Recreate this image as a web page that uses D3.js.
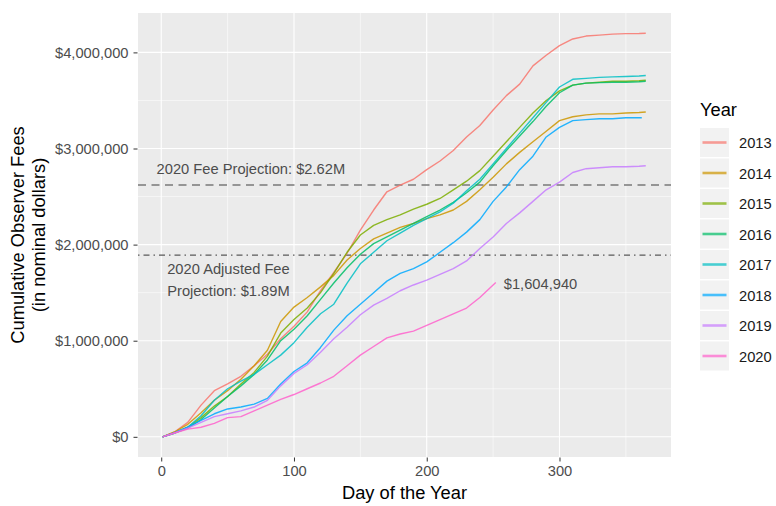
<!DOCTYPE html>
<html><head><meta charset="utf-8">
<script src="https://cdn.jsdelivr.net/npm/d3@7"></script>
<style>body{margin:0;background:#fff}svg{display:block}text{font-family:"Liberation Sans",Arial,sans-serif}</style>
</head><body><svg id="c" width="776" height="506"></svg>
<script>
// ---- data (values in millions of nominal dollars) ----
const years = ["2013","2014","2015","2016","2017","2018","2019","2020"];
const colors = ["#F8766D","#CD9600","#7CAE00","#00BE67","#00BFC4","#00A9FF","#C77CFF","#FF61CC"];
const days = [1,10,20,30,40,50,60,70,80,90,100,110,120,130,140,150,160,170,180,190,200,210,220,230,240,250,260,270,280,290,300,310,320,330,340,350,360];
const fees2013 = [0,0.05,0.15,0.33,0.48,0.55,0.63,0.74,0.86,1.02,1.15,1.30,1.52,1.71,1.91,2.15,2.36,2.55,2.62,2.68,2.78,2.87,2.98,3.12,3.24,3.40,3.55,3.67,3.86,3.97,4.07,4.14,4.17,4.18,4.19,4.195,4.197];
const fees2014 = [0,0.05,0.13,0.25,0.38,0.48,0.60,0.74,0.90,1.20,1.35,1.45,1.56,1.68,1.84,1.96,2.06,2.12,2.18,2.22,2.27,2.31,2.36,2.45,2.57,2.70,2.84,2.96,3.07,3.18,3.29,3.33,3.35,3.36,3.36,3.37,3.375];
const fees2015 = [0,0.04,0.10,0.20,0.32,0.42,0.55,0.67,0.84,1.08,1.22,1.34,1.50,1.70,1.92,2.10,2.20,2.26,2.31,2.37,2.42,2.48,2.57,2.66,2.77,2.92,3.07,3.22,3.37,3.50,3.60,3.66,3.68,3.69,3.70,3.70,3.705];
const fees2016 = [0,0.04,0.09,0.18,0.30,0.42,0.53,0.65,0.80,1.00,1.12,1.26,1.43,1.60,1.76,1.90,2.01,2.08,2.15,2.22,2.29,2.36,2.44,2.54,2.65,2.82,2.98,3.13,3.28,3.44,3.58,3.66,3.68,3.685,3.69,3.69,3.695];
const fees2017 = [0,0.04,0.10,0.22,0.38,0.50,0.58,0.65,0.75,0.85,0.98,1.14,1.28,1.38,1.60,1.80,1.92,2.04,2.12,2.20,2.27,2.34,2.43,2.56,2.68,2.84,3.00,3.16,3.32,3.48,3.64,3.72,3.73,3.74,3.745,3.75,3.755];
const fees2018 = [0,0.04,0.10,0.17,0.24,0.29,0.31,0.34,0.40,0.55,0.68,0.77,0.93,1.11,1.26,1.38,1.50,1.62,1.70,1.75,1.82,1.92,2.02,2.13,2.26,2.45,2.60,2.78,2.92,3.12,3.22,3.29,3.30,3.31,3.31,3.32,3.32];
const fees2019 = [0,0.04,0.09,0.15,0.21,0.24,0.27,0.31,0.38,0.53,0.66,0.75,0.88,1.02,1.14,1.27,1.37,1.44,1.52,1.58,1.63,1.69,1.75,1.83,1.96,2.08,2.22,2.33,2.45,2.57,2.65,2.75,2.79,2.80,2.81,2.81,2.815];
const fees2020 = [0,0.04,0.08,0.10,0.14,0.20,0.21,0.27,0.33,0.39,0.44,0.50,0.56,0.63,0.74,0.85,0.94,1.03,1.07,1.10,1.16,1.22,1.28,1.34,1.45,1.58];
const finalDays = [365,365,365,365,365,362,365,252];
const finalFees = [4.20,3.38,3.71,3.70,3.76,3.32,2.82,1.60494];
const yTicks = [0,1000000,2000000,3000000,4000000];
const yMinor = [500000,1500000,2500000,3500000];
const xTicks = [0,100,200,300];
const xMinor = [50,150,250,350];
const projection = 2620000, adjusted = 1890000, lastLabel = "$1,604,940";

const allFees = [fees2013,fees2014,fees2015,fees2016,fees2017,fees2018,fees2019,fees2020];
const series = years.map((yr,i)=>{
  const pts = allFees[i].map((v,j)=>({d:days[j], v:v*1e6}));
  pts.push({d:finalDays[i], v:finalFees[i]*1e6});
  return {year:yr, color:colors[i], pts};
});

// ---- layout ----
const svg = d3.select("#c");
const L=138,R=671,T=13,B=457;
const x = d3.scaleLinear().domain([-17.5,384]).range([L,R]);
const y = d3.scaleLinear().domain([-210000,4410000]).range([B,T]);

svg.append("rect").attr("x",L).attr("y",T).attr("width",R-L).attr("height",B-T).attr("fill","#EBEBEB");
const g = svg.append("g");
g.selectAll(".ymin").data(yMinor).join("line").attr("x1",L).attr("x2",R).attr("y1",d=>y(d)).attr("y2",d=>y(d)).attr("stroke","#fff").attr("stroke-width",0.55);
g.selectAll(".xmin").data(xMinor).join("line").attr("y1",T).attr("y2",B).attr("x1",d=>x(d)).attr("x2",d=>x(d)).attr("stroke","#fff").attr("stroke-width",0.55);
g.selectAll(".ymaj").data(yTicks).join("line").attr("x1",L).attr("x2",R).attr("y1",d=>y(d)).attr("y2",d=>y(d)).attr("stroke","#fff").attr("stroke-width",1.1);
g.selectAll(".xmaj").data(xTicks).join("line").attr("y1",T).attr("y2",B).attr("x1",d=>x(d)).attr("x2",d=>x(d)).attr("stroke","#fff").attr("stroke-width",1.1);

// axes
const fmt = d => "$" + d3.format(",")(d);
const yAxis = d3.axisLeft(y).tickValues(yTicks).tickFormat(fmt).tickSize(4).tickPadding(5);
const xAxis = d3.axisBottom(x).tickValues(xTicks).tickSize(4).tickPadding(4);
const ya = svg.append("g").attr("transform",`translate(${L-0.5},0)`).call(yAxis);
const xa = svg.append("g").attr("transform",`translate(0,${B+0.5})`).call(xAxis);
[ya,xa].forEach(a=>{
  a.select(".domain").remove();
  a.selectAll(".tick line").attr("stroke","#333").attr("stroke-width",1);
  a.selectAll(".tick text").attr("fill","#4D4D4D").style("font-size","14.7px");
});

// reference lines
svg.append("line").attr("x1",L).attr("x2",R).attr("y1",y(projection)).attr("y2",y(projection))
  .attr("stroke","#7a7a7a").attr("stroke-width",1.4).attr("stroke-dasharray","8,5.5");
svg.append("line").attr("x1",L).attr("x2",R).attr("y1",y(adjusted)).attr("y2",y(adjusted))
  .attr("stroke","#5a5a5a").attr("stroke-width",1.3).attr("stroke-dasharray","1.5,4,6,4");

// series lines
const line = d3.line().x(d=>x(d.d)).y(d=>y(d.v));
svg.append("g").selectAll("path").data(series).join("path")
  .attr("d",d=>line(d.pts)).attr("fill","none").attr("stroke",d=>d.color)
  .attr("stroke-width",1.4).attr("stroke-opacity",0.85).attr("stroke-linejoin","round");

// annotations
const ann = svg.append("g").attr("fill","#4D4D4D").style("font-size","14.7px");
ann.append("text").attr("x",x(-3.5)).attr("y",y(projection)-11).text("2020 Fee Projection: $2.62M");
ann.append("text").attr("x",x(4.5)).attr("y",y(adjusted)+19).text("2020 Adjusted Fee");
ann.append("text").attr("x",x(4.5)).attr("y",y(adjusted)+41).text("Projection: $1.89M");
const last = series[7].pts[series[7].pts.length-1];
ann.append("text").attr("x",x(last.d)+8).attr("y",y(last.v)+6).text(lastLabel);

// axis titles
svg.append("text").attr("x",(L+R)/2).attr("y",499).attr("text-anchor","middle").style("font-size","18.3px").attr("fill","#000").text("Day of the Year");
const yt = svg.append("text").attr("transform",`translate(24,${(T+B)/2}) rotate(-90)`).attr("text-anchor","middle").style("font-size","18.3px").attr("fill","#000");
yt.append("tspan").attr("x",0).attr("dy",0).text("Cumulative Observer Fees");
yt.append("tspan").attr("x",0).attr("dy",21).text("(in nominal dollars)");

// legend
const lg = svg.append("g");
lg.append("text").attr("x",700).attr("y",116).style("font-size","18.3px").attr("fill","#000").text("Year");
const rows = lg.selectAll(".row").data(series).join("g").attr("transform",(d,i)=>`translate(700,${128+i*30.5})`);
rows.append("rect").attr("width",29).attr("height",29).attr("fill","#F2F2F2");
rows.append("line").attr("x1",2.5).attr("x2",26.5).attr("y1",14.5).attr("y2",14.5).attr("stroke",d=>d.color).attr("stroke-width",2.6).attr("stroke-opacity",0.7);
rows.append("text").attr("x",39).attr("y",20).style("font-size","14.7px").attr("fill","#1a1a1a").text(d=>d.year);
</script></body></html>
